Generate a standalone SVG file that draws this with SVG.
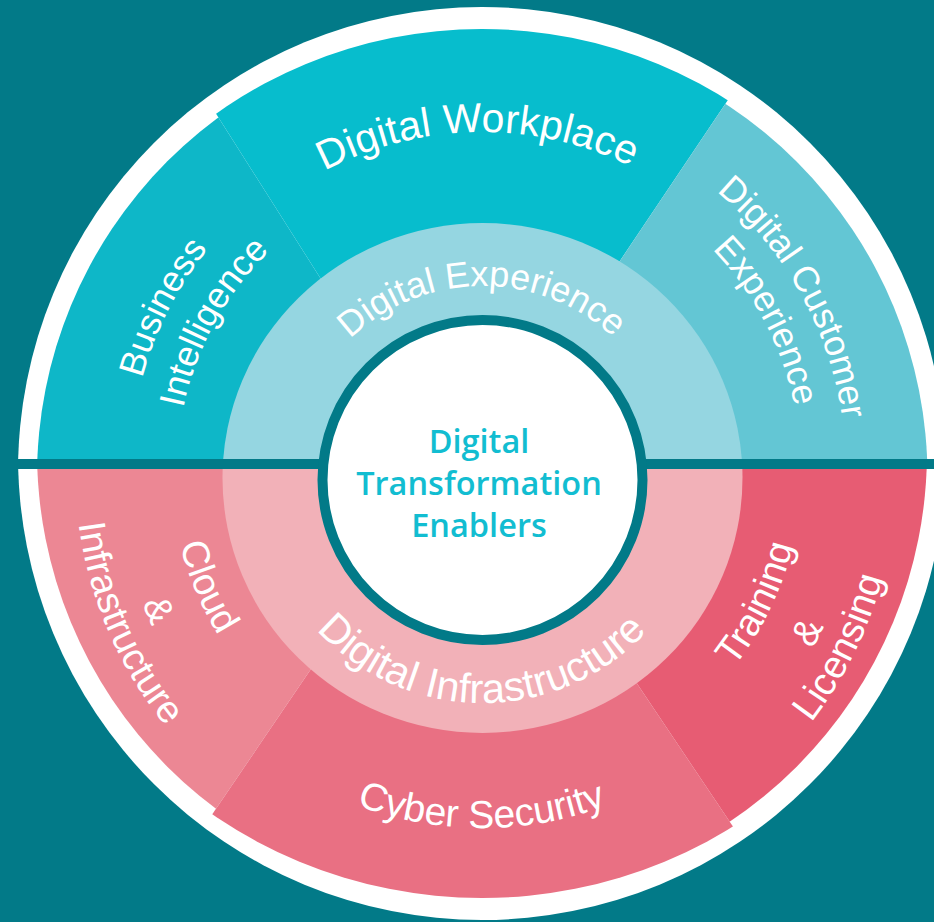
<svg xmlns="http://www.w3.org/2000/svg" width="934" height="922" viewBox="0 0 934 922">
<style>
.lbl{font-family:"Liberation Sans",Arial,sans-serif;fill:#ffffff;text-anchor:middle}
.ctr{font-family:"Open Sans","Noto Sans",sans-serif;font-weight:600;fill:#12BDD1;text-anchor:middle;font-size:32.5px}
</style>
<defs>
<clipPath id="cTop"><rect x="0" y="0" width="934" height="459"/></clipPath>
<clipPath id="cBot"><rect x="0" y="469" width="934" height="453"/></clipPath>
<clipPath id="cBI"><polygon points="0,0 144,0 435,459 0,459"/></clipPath>
<clipPath id="cWP"><polygon points="144,0 795,0 487,459 435,459"/></clipPath>
<clipPath id="cDCE"><polygon points="795,0 934,0 934,459 487,459"/></clipPath>
<clipPath id="cCloud"><polygon points="0,469 447,469 139,922 0,922"/></clipPath>
<clipPath id="cCyber"><polygon points="447,469 493,469 797,922 139,922"/></clipPath>
<clipPath id="cTrain"><polygon points="493,469 934,469 934,922 797,922"/></clipPath>
<path id="pWP" d="M144.03,474.72 A338,338 0 0 1 477.28,132.03 A338,338 0 0 1 819.97,465.28"/>
<path id="pBus" d="M322.2,783.64 A352,352 0 0 1 168.36,310.2 A352,352 0 0 1 641.8,156.36"/>
<path id="pInt" d="M335.07,737.27 A305,305 0 0 1 214.73,323.07 A305,305 0 0 1 628.93,202.73"/>
<path id="pDC" d="M305.53,151.64 A364,364 0 0 1 800.36,293.53 A364,364 0 0 1 658.47,788.36"/>
<path id="pExp" d="M333.98,187.43 A319,319 0 0 1 764.57,321.98 A319,319 0 0 1 630.02,752.57"/>
<path id="pDExp" d="M290.5,479 A192,192 0 0 1 481.5,286 A192,192 0 0 1 674.5,477"/>
<path id="pDInf" d="M257.5,477.02 A225,225 0 0 0 481.52,703 A225,225 0 0 0 707.5,478.98"/>
<path id="pCy" d="M124,469.38 A358,358 0 0 0 481.38,828 A358,358 0 0 0 840,470.62"/>
<path id="pCl" d="M360.48,183.72 A311,311 0 0 0 195.72,591.52 A311,311 0 0 0 603.52,756.28"/>
<path id="pAmp1" d="M337.04,135.02 A365,365 0 0 0 147.02,614.96 A365,365 0 0 0 626.96,804.98"/>
<path id="pInf" d="M321.01,96.19 A407,407 0 0 0 108.19,630.99 A407,407 0 0 0 642.99,843.81"/>
<path id="pTr" d="M342.47,757.99 A320,320 0 0 0 769.99,609.53 A320,320 0 0 0 621.53,182.01"/>
<path id="pAmp2" d="M314.23,806.49 A376,376 0 0 0 818.49,637.77 A376,376 0 0 0 649.77,133.51"/>
<path id="pLic" d="M298.13,842.04 A415,415 0 0 0 854.04,653.87 A415,415 0 0 0 665.87,97.96"/>
</defs>
<rect x="0" y="0" width="934" height="922" fill="#027A88"/>
<g id="outer-ring">
<circle cx="482" cy="471" r="464" fill="#ffffff" clip-path="url(#cTop)"/>
<circle cx="482" cy="456" r="464" fill="#ffffff" clip-path="url(#cBot)"/>
</g>
<g id="node-business-intelligence">
<circle cx="482" cy="476" r="445" fill="#0EB7C8" clip-path="url(#cBI)"/>
<text class="lbl" font-size="36"><textPath href="#pBus" startOffset="50%">Business</textPath></text>
<text class="lbl" font-size="36"><textPath href="#pInt" startOffset="50%">Intelligence</textPath></text>
</g>
<g id="node-digital-workplace">
<circle cx="482" cy="489" r="460" fill="#07BDCD" clip-path="url(#cWP)"/>
<text class="lbl" font-size="41"><textPath href="#pWP" startOffset="50%">Digital Workplace</textPath></text>
</g>
<g id="node-digital-customer-experience">
<circle cx="482" cy="477" r="445.5" fill="#63C6D4" clip-path="url(#cDCE)"/>
<text class="lbl" font-size="36"><textPath href="#pDC" startOffset="50%">Digital Customer</textPath></text>
<text class="lbl" font-size="36"><textPath href="#pExp" startOffset="50%">Experience</textPath></text>
</g>
<g id="node-cloud-infrastructure">
<circle cx="482" cy="452" r="445" fill="#EC8794" clip-path="url(#cCloud)"/>
<text class="lbl" font-size="38"><textPath href="#pCl" startOffset="50%">Cloud</textPath></text>
<text class="lbl" font-size="38"><textPath href="#pAmp1" startOffset="50%">&amp;</textPath></text>
<text class="lbl" font-size="38"><textPath href="#pInf" startOffset="50%">Infrastructure</textPath></text>
</g>
<g id="node-cyber-security">
<circle cx="482" cy="421" r="477" fill="#E97083" clip-path="url(#cCyber)"/>
<text class="lbl" font-size="39"><textPath href="#pCy" startOffset="50%">Cyber Security</textPath></text>
</g>
<g id="node-training-licensing">
<circle cx="482" cy="452" r="445" fill="#E75C73" clip-path="url(#cTrain)"/>
<text class="lbl" font-size="38"><textPath href="#pTr" startOffset="50%">Training</textPath></text>
<text class="lbl" font-size="38"><textPath href="#pAmp2" startOffset="50%">&amp;</textPath></text>
<text class="lbl" font-size="38.5"><textPath href="#pLic" startOffset="50%">Licensing</textPath></text>
</g>
<g id="node-digital-experience">
<ellipse cx="482.5" cy="478" rx="260" ry="255" fill="#95D6E1" clip-path="url(#cTop)"/>
<text class="lbl" font-size="36"><textPath href="#pDExp" startOffset="50%">Digital Experience</textPath></text>
</g>
<g id="node-digital-infrastructure">
<ellipse cx="482.5" cy="478" rx="260" ry="255" fill="#F2B1B8" clip-path="url(#cBot)"/>
<text class="lbl" font-size="41.5"><textPath href="#pDInf" startOffset="50%">Digital Infrastructure</textPath></text>
</g>
<g id="node-center">
<circle cx="482.5" cy="480" r="160" fill="#ffffff" stroke="#027A88" stroke-width="10"/>
<text class="ctr" x="479" y="453">Digital</text>
<text class="ctr" x="479" y="495">Transformation</text>
<text class="ctr" x="479" y="537">Enablers</text>
</g>
</svg>
